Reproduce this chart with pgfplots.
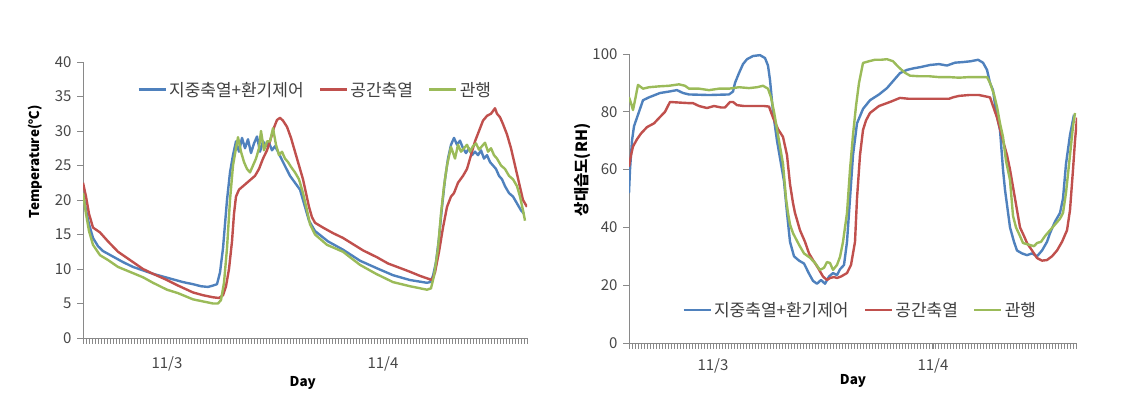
\documentclass[border=0pt]{standalone}
\usepackage{pgfplots}
\pgfplotsset{compat=1.18}
\usepackage{fontspec}
\setmainfont{Noto Sans CJK KR}
\definecolor{cBlue}{HTML}{4F81BD}
\definecolor{cRed}{HTML}{C0504D}
\definecolor{cGreen}{HTML}{9BBB59}
\definecolor{axgray}{HTML}{898989}
\begin{document}
\begin{tikzpicture}
\useasboundingbox (0,0) rectangle (1124pt,411pt);
\pgfplotsset{
  myaxis/.style={
    scale only axis, anchor=south west,
    axis x line*=bottom, axis y line*=left,
    axis line style={-, draw=axgray, line width=0.9pt},
    tick align=outside,
    major tick length=6pt, minor tick length=6pt,
    every tick/.style={draw=axgray, line width=0.6pt},
    minor tick style={draw=axgray, line width=0.6pt},
    /pgf/number format/assume math mode=true,
    ticklabel style={font=\fontsize{15}{17}\selectfont, text=black!72},
    xtick={84,300}, xticklabels={11/3,11/4},
    yticklabel style={xshift=-2pt},
    label style={font=\fontsize{13.5}{15}\bfseries\selectfont},
    legend style={draw=none, fill=none, font=\fontsize{17}{19}\selectfont, text=black!75,
      legend columns=3, /tikz/every even column/.append style={column sep=13pt}},
    legend image code/.code={\draw[##1, line width=2.8pt] (0pt,0pt) -- (27pt,0pt);},
    every axis plot/.append style={line width=2.4pt, mark=none, line join=round},
  }
}
\begin{axis}[myaxis,
  at={(83pt,73pt)}, width=444pt, height=276pt,
  xmin=0, xmax=444, ymin=0, ymax=40, ytick={0,5,...,40},
  minor xtick={0,3,...,444},
  xticklabel style={yshift=-9pt},
  ylabel={Temperature(℃)}, xlabel={Day},
  ylabel style={at={(axis description cs:-0.108,0.638)}, anchor=center},
  xlabel style={at={(axis description cs:0.495,-0.163)}, anchor=center},
  legend style={at={(axis description cs:0.523,0.899)}, anchor=center},
]
\addplot[cBlue] coordinates {
(0,21.0)(3,18.5)(6,16.5)(10,14.5)(15,13.3)(20,12.6)(30,11.8)(40,11.0)(50,10.3)(60,9.8)(70,9.3)(80,8.9)(90,8.5)(100,8.1)(110,7.8)(118,7.5)(125,7.4)(130,7.6)(134,7.8)(137,9.5)(140,13.0)(142,16.5)(144,20.0)(147,24.0)(150,26.5)(153,28.5)(156,27.0)(159,29.0)(162,27.5)(165,28.8)(168,26.8)(171,28.2)(174,29.2)(177,27.0)(180,28.5)(183,27.8)(186,28.3)(189,27.2)(192,27.8)(195,27.0)(200,25.5)(207,23.5)(212,22.5)(217,21.5)(222,19.0)(226,17.0)(232,15.5)(245,14.0)(260,12.8)(277,11.2)(294,10.1)(310,9.1)(327,8.4)(344,8.0)(347,8.1)(350,9.0)(353,11.0)(356,14.5)(359,19.0)(362,23.0)(365,26.0)(368,28.0)(371,29.0)(374,28.0)(377,28.6)(380,27.5)(383,26.8)(386,27.5)(389,26.5)(392,27.0)(395,26.5)(398,27.2)(401,26.0)(404,26.5)(407,25.5)(410,25.0)(413,24.5)(416,23.5)(419,23.0)(422,22.0)(426,21.0)(430,20.5)(434,19.5)(438,18.5)(441,18.0)
};
\addplot[cRed] coordinates {
(0,22.5)(3,20.5)(6,18.0)(10,16.0)(17,15.3)(25,14.0)(35,12.5)(50,11.0)(60,10.0)(70,9.3)(84,8.4)(95,7.6)(110,6.6)(120,6.2)(130,5.9)(136,5.8)(140,6.2)(143,7.5)(146,10.0)(149,14.0)(151,18.0)(153,20.5)(156,21.5)(160,22.0)(164,22.5)(168,23.0)(172,23.5)(176,24.5)(180,26.0)(184,27.2)(188,29.0)(191,30.5)(194,31.6)(197,31.9)(200,31.5)(204,30.6)(208,29.0)(211,27.5)(214,26.0)(217,24.5)(220,23.0)(223,21.0)(226,19.0)(229,17.5)(232,16.7)(240,16.0)(250,15.2)(260,14.5)(270,13.6)(280,12.7)(294,11.7)(305,10.8)(316,10.2)(327,9.6)(337,9.0)(349,8.4)(352,9.5)(356,12.5)(360,16.0)(364,19.0)(368,20.5)(371,21.0)(375,22.5)(380,23.5)(384,24.5)(388,26.5)(392,28.5)(396,30.0)(400,31.5)(404,32.2)(408,32.5)(412,33.3)(414,32.5)(417,32.0)(420,31.0)(424,29.5)(428,27.5)(432,25.0)(436,22.5)(440,20.0)(444,19.0)
};
\addplot[cGreen] coordinates {
(0,21.0)(3,18.0)(6,15.5)(10,13.5)(17,12.0)(25,11.3)(35,10.3)(50,9.4)(60,8.8)(70,8.0)(84,7.0)(95,6.5)(110,5.6)(120,5.3)(130,5.0)(135,5.0)(138,5.5)(141,8.0)(144,13.0)(147,20.0)(150,25.0)(153,27.5)(155,29.1)(158,27.0)(161,25.5)(164,24.5)(167,24.0)(170,25.0)(173,26.0)(176,27.5)(178,30.0)(181,27.2)(184,28.5)(187,28.5)(190,30.4)(193,28.0)(196,26.5)(199,27.0)(202,26.0)(205,25.5)(208,24.8)(212,24.0)(216,23.0)(220,21.0)(224,18.5)(227,16.5)(232,15.0)(244,13.5)(252,13.0)(260,12.5)(268,11.6)(277,10.6)(293,9.3)(310,8.1)(327,7.5)(344,7.0)(348,7.2)(351,9.0)(355,13.0)(358,18.0)(361,22.0)(364,25.0)(368,27.7)(372,26.0)(375,28.0)(378,27.0)(381,27.5)(384,28.0)(387,27.0)(390,27.8)(393,28.2)(396,27.3)(399,27.8)(402,28.3)(405,27.0)(408,27.5)(411,26.5)(414,26.0)(418,25.0)(422,24.5)(426,23.5)(430,23.0)(434,22.0)(437,20.5)(440,18.5)(442,17.0)
};
\legend{지중축열+환기제어, 공간축열, 관행}
\end{axis}
\begin{axis}[myaxis,
  at={(629pt,68pt)}, width=448pt, height=289pt,
  xmin=0, xmax=448, ymin=0, ymax=100, ytick={0,20,...,100},
  minor xtick={0,3,...,447},
  xtick={84,304},
  xticklabel style={yshift=-6pt},
  ylabel={상대습도(RH)}, xlabel={Day},
  ylabel style={at={(axis description cs:-0.103,0.599)}, anchor=center, font=\fontsize{15.5}{17}\bfseries\selectfont},
  xlabel style={at={(axis description cs:0.5,-0.131)}, anchor=center},
  legend style={at={(axis description cs:0.516,0.114)}, anchor=center},
]
\addplot[cBlue] coordinates {
(0,51.9)(1,60)(3,70)(5,75)(8,78)(11,81)(14,84)(20,85)(31,86.5)(40,87)(48,87.5)(54,86.5)(60,86)(80,85.8)(100,86)(104,87)(106,90)(110,93.4)(114,96.5)(118,98.2)(124,99.3)(131,99.6)(136,98.6)(139,96)(141,91)(144,80)(148,70)(151,64)(155,56)(158,45)(161,35)(165,30)(170,28.5)(175,27.5)(180,24)(184,21.5)(188,20.5)(192,21.8)(196,20.5)(200,23)(204,24.2)(208,23.5)(211,25.5)(215,27)(218,35)(221,50)(224,65)(228,76)(234,81)(241,84)(250,86)(258,88.2)(265,91)(271,93.4)(278,94.5)(284,95)(292,95.5)(301,96.2)(310,96.5)(318,96)(326,97)(334,97.2)(342,97.5)(349,98)(354,97)(358,94.5)(361,90)(364,87.5)(367,80)(371,73.7)(374,60)(376,53)(381,40)(385,35)(388,32)(393,31)(398,30.4)(403,31)(408,30)(413,32)(418,35)(421,38)(426,42)(431,45)(434,50)(437,62)(441,72)(445,79)
};
\addplot[cRed] coordinates {
(0,61)(2,65)(4,68)(8,70.5)(12,72.5)(18,74.7)(25,76)(31,78.2)(36,80)(41,83.4)(50,83.2)(60,83)(64,83)(70,82)(78,81.3)(85,82)(92,81.5)(96,81.5)(101,83.4)(104,83.4)(108,82.3)(115,82)(125,82)(135,82)(140,81.8)(144,78)(149,74)(154,71.3)(158,65)(161,55)(164,48.4)(166,45)(171,39)(176,35)(180,31)(184,28.7)(189,26)(194,23)(198,21.8)(201,22.5)(205,22.8)(208,22.5)(212,23)(218,24.2)(222,27)(226,35)(228,50)(231,65)(234,73.7)(237,77)(241,79.6)(250,82)(261,83.4)(271,84.8)(280,84.5)(300,84.5)(320,84.5)(324,85)(330,85.5)(340,85.8)(350,85.8)(361,85)(364,82)(368,78)(371,74)(374,70)(378,65)(381,60)(385,52)(388,46)(391,40)(395,37)(398,34.6)(404,31.5)(408,29.4)(413,28.5)(418,28.7)(423,30)(428,32)(433,35)(438,39)(441,46)(444,60)(446,70)(448,78)
};
\addplot[cGreen] coordinates {
(0,85)(2,83)(4,80.6)(6,84)(9,89.3)(14,88)(20,88.5)(30,88.8)(40,89)(50,89.5)(56,89)(60,88)(70,88)(80,87.5)(90,88)(100,88)(110,88.5)(120,88.2)(128,88.5)(134,89)(139,88)(142,85)(145,80)(148,74)(151,68)(154,62)(157,50)(159,45)(161,41)(164,38)(170,34)(175,31)(181,29.5)(186,27.7)(191,25.3)(195,26)(198,28)(201,27.7)(204,25.3)(208,27)(211,29.8)(214,35)(218,45)(221,60)(224,72)(227,82)(230,90)(234,96.9)(240,97.5)(246,98)(252,98)(258,98.2)(264,97.5)(268,96)(271,95)(276,93.5)(281,92.5)(290,92.3)(300,92.3)(310,92)(320,92)(330,91.8)(340,92)(350,92)(358,92)(361,90)(365,86)(368,81.7)(371,76)(374,71.3)(377,63)(381,56.4)(384,44)(387,40)(391,37)(394,34.6)(400,34)(405,33.5)(408,34.6)(412,35)(416,37)(421,39)(426,41)(431,43)(434,45)(437,52)(441,65)(444,75)(446,79.6)
};
\legend{지중축열+환기제어, 공간축열, 관행}
\end{axis}
\end{tikzpicture}
\end{document}
